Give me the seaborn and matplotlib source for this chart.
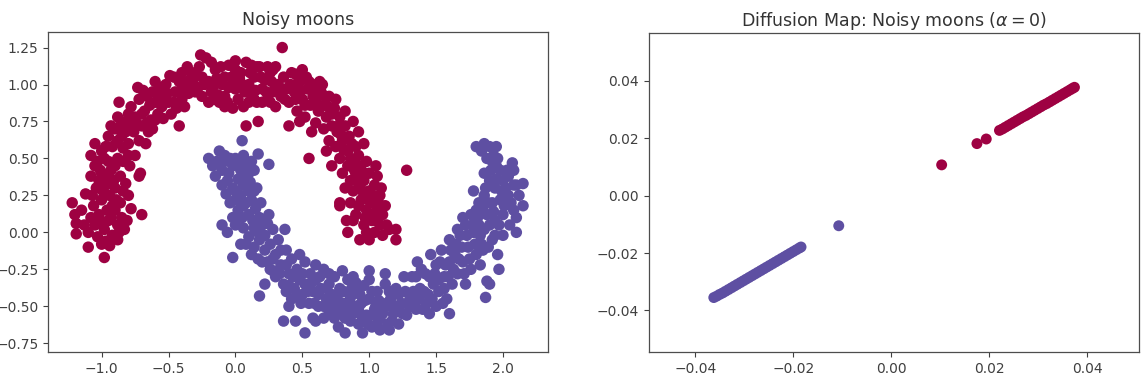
import matplotlib
matplotlib.use("Agg")
import matplotlib.pyplot as plt
import seaborn as sns
import pandas as pd

# ---------------- data ----------------
moon_red = [
    (-1.22,0.20),(-1.20,0.12),(-1.19,0.06),(-1.19,-0.01),(-1.12,0.26),(-1.10,-0.10),(-0.98,-0.17),
    (-1.05,0.05),(-1.02,0.12),(-0.98,0.02),(-0.95,0.08),(-0.92,-0.02),(-0.90,0.15),(-0.88,0.05),
    (-1.03,-0.03),(-0.97,-0.06),(-0.85,0.10),(-0.83,0.02),(-0.86,0.20),(-1.06,0.18),(-1.00,0.22),
    (-0.94,0.25),(-0.90,0.30),(-0.97,0.32),(-1.04,0.30),(-0.80,0.25),(-0.78,0.16),(-0.70,0.12),
    (-0.88,-0.05),(-0.92,0.18),(-1.08,0.38),(-1.00,0.40),(-0.93,0.42),(-0.86,0.38),(-0.82,0.33),
    (-1.05,0.45),(-0.95,0.48),(-0.88,0.50),(-0.79,0.45),(-0.72,0.38),(-0.71,0.40),(-0.75,0.52),
    (-1.00,0.55),(-1.05,0.60),(-0.92,0.58),(-0.84,0.57),(-0.98,0.50),(-1.08,0.52),
    (-0.95,0.65),(-0.90,0.70),(-0.85,0.65),(-0.80,0.60),(-0.76,0.68),(-0.88,0.78),(-0.82,0.75),
    (-0.75,0.78),(-0.70,0.72),(-0.72,0.62),(-0.65,0.68),(-0.78,0.85),(-0.72,0.90),(-0.68,0.82),
    (-0.63,0.76),(-0.73,0.98),(-0.66,0.92),(-0.60,0.88),(-0.58,0.80),(-0.55,0.85),(-0.62,0.95),
    (-0.55,0.93),(-0.50,0.88),(-0.48,0.80),(-0.52,1.00),(-0.45,0.95),(-0.42,1.02),(-0.40,0.90),
    (-0.38,0.85),(-0.42,0.72),(-0.46,1.05),(-0.36,1.12),(-0.33,1.00),(-0.35,0.94),(-0.60,1.02),
    (-0.54,0.77),(-0.67,0.60),(-0.82,0.68),(-0.62,0.70),(-0.87,0.88),
    (-0.30,1.08),(-0.28,0.98),(-0.25,0.92),(-0.22,1.18),(-0.20,1.02),(-0.18,0.95),(-0.15,1.10),
    (-0.12,0.88),(-0.10,1.00),(-0.08,0.92),(-0.05,1.13),(-0.03,1.05),(0.00,0.97),(0.02,0.90),
    (0.04,1.08),(0.06,0.85),(0.08,1.15),(0.10,1.00),(0.12,0.93),(0.14,1.05),(0.16,0.88),
    (0.18,1.12),(0.20,0.97),(0.22,1.03),(0.24,0.90),(0.26,1.08),(0.28,0.95),(0.30,0.85),
    (0.32,1.00),(0.34,0.92),(0.36,1.05),(0.38,0.97),(0.35,1.25),(0.08,0.72),(0.17,0.75),
    (-0.08,0.85),(-0.20,0.88),(-0.26,1.20),(-0.02,0.84),(0.12,1.13),(0.24,1.12),(-0.14,1.04),
    (0.05,1.00),(0.20,0.88),(0.30,1.12),(-0.32,1.03),(-0.25,1.05),(0.00,1.10),(0.15,0.96),(-0.05,0.98),
    (0.40,0.88),(0.42,1.08),(0.44,0.95),(0.46,0.82),(0.48,1.02),(0.50,0.90),(0.50,1.10),(0.52,0.78),
    (0.54,0.97),(0.56,0.86),(0.58,1.00),(0.60,0.74),(0.60,0.90),(0.62,0.82),(0.64,0.95),(0.66,0.70),
    (0.66,0.86),(0.68,0.78),(0.70,0.92),(0.70,0.62),(0.72,0.72),(0.74,0.84),(0.75,0.58),(0.76,0.68),
    (0.78,0.78),(0.78,0.50),(0.80,0.62),(0.82,0.72),(0.82,0.82),(0.84,0.55),(0.85,0.65),(0.55,0.50),
    (0.40,0.72),(0.48,0.75),(0.57,0.68),(0.68,0.55),(0.72,0.45),(0.88,0.75),(0.92,0.68),(0.45,1.00),
    (0.53,1.05),(0.65,1.00),
    (0.80,0.40),(0.82,0.30),(0.84,0.45),(0.86,0.35),(0.86,0.20),(0.88,0.48),(0.88,0.28),(0.90,0.58),
    (0.90,0.40),(0.90,0.12),(0.92,0.30),(0.92,0.52),(0.94,0.22),(0.94,0.42),(0.96,0.60),(0.96,0.35),
    (0.96,0.05),(0.98,0.48),(0.98,0.15),(1.00,0.28),(1.00,0.40),(1.00,-0.05),(1.02,0.08),(1.02,0.20),
    (1.04,0.32),(1.04,0.00),(1.05,0.45),(1.06,0.15),(1.08,0.05),(1.08,0.25),(1.10,-0.02),(1.10,0.12),
    (1.12,0.18),(1.15,0.02),(1.20,0.02),(1.20,-0.05),(1.28,0.42),(0.78,0.20),(0.78,0.18),(0.83,0.08),
    (0.84,0.00),(0.93,-0.05),(0.98,0.00),(1.06,0.38),(1.13,0.05),
    (-1.15,0.15),(-1.13,0.05),(-1.08,0.10),(-1.01,0.08),(-0.96,0.15),(-0.93,0.10),(-0.89,0.22),
    (-0.84,0.28),(-1.07,0.25),(-1.02,0.35),(-0.96,0.38),(-0.90,0.45),(-0.84,0.48),(-0.80,0.52),
    (-1.03,0.48),(-0.97,0.58),(-0.88,0.62),(-0.93,0.72),(-0.86,0.72),(-0.78,0.72),(-1.10,0.00),
    (-1.00,-0.08),(-0.94,-0.09),(-0.87,0.00),(-0.81,0.08),(-0.91,0.35),(-0.99,0.28),(-1.01,0.42),
    (-0.70,0.80),(-0.64,0.86),(-0.57,0.90),(-0.51,0.94),(-0.46,0.88),(-0.44,0.84),(-0.40,0.97),
    (-0.36,1.02),(-0.30,0.95),(-0.27,1.12),(-0.23,1.00),(-0.17,0.98),(-0.13,0.93),(-0.08,1.05),
    (-0.02,1.00),(0.03,1.04),(0.07,0.95),(0.11,1.08),(0.14,0.90),(0.19,1.05),(0.23,0.95),
    (0.27,1.02),(0.33,0.96),(0.37,0.90),(0.41,1.00),(0.45,0.90),(0.49,0.96),(0.52,0.86),
    (0.55,1.02),(0.58,0.92),(0.61,0.85),(0.63,1.02),(0.67,0.92),(0.69,0.85),(0.72,0.80),
    (0.75,0.90),(0.77,0.72),(0.79,0.66),(0.81,0.56),(0.83,0.64),(0.86,0.50),(0.87,0.60),
    (0.89,0.42),(0.91,0.35),(0.93,0.45),(0.95,0.28),(0.97,0.40),(0.99,0.22),(1.01,0.12),
    (1.03,0.25),(1.05,0.08),(1.07,0.20),(1.09,0.30),(0.97,0.10),(0.92,0.18),(0.88,0.08),
    (-0.60,0.76),(-0.66,0.74),(-0.74,0.74),(-0.80,0.80),(-0.69,0.96),(-0.56,0.98),(-0.49,1.06),
    (-0.40,1.08),(-0.33,1.08),(-0.18,1.15),(-0.11,1.12),(0.00,1.16),(0.16,1.12),(0.28,1.10),
    (0.45,1.07),(0.60,0.97),(-0.16,0.90),(-0.06,0.88),(0.10,0.88),(0.26,0.88),
]

moon_purple = [
    (-0.20,0.50),(-0.17,0.45),(-0.12,0.55),(-0.10,0.42),(-0.15,0.38),(-0.08,0.48),(-0.05,0.40),
    (-0.02,0.45),(0.00,0.50),(0.05,0.62),(0.06,0.52),(0.08,0.46),(0.10,0.40),(0.12,0.48),(0.17,0.53),
    (0.25,0.46),(0.14,0.42),(-0.06,0.35),(-0.02,0.30),(0.02,0.36),(0.06,0.32),(0.10,0.28),(0.04,0.25),
    (0.00,0.22),(-0.04,0.20),(0.08,0.20),(0.12,0.22),(0.15,0.16),(0.02,0.15),(-0.02,0.10),(0.05,0.10),
    (0.10,0.12),(0.18,0.10),(0.20,0.05),(0.14,0.03),(0.06,0.03),(0.00,0.05),(-0.10,0.05),(-0.06,0.00),
    (0.10,-0.03),(0.25,0.12),(0.28,0.02),(0.22,-0.02),(0.37,0.02),(0.04,-0.08),(-0.02,-0.17),
    (0.16,0.30),(0.19,0.20),
    (0.14,-0.10),(0.18,-0.05),(0.22,-0.12),(0.26,-0.08),(0.30,-0.15),(0.20,-0.20),(0.26,-0.25),
    (0.32,-0.05),(0.34,-0.22),(0.38,-0.12),(0.30,-0.30),(0.36,-0.35),(0.40,-0.28),(0.42,-0.18),
    (0.44,-0.38),(0.46,-0.25),(0.48,-0.32),(0.50,-0.42),(0.52,-0.20),(0.52,-0.35),(0.55,-0.48),
    (0.56,-0.28),(0.58,-0.40),(0.60,-0.32),(0.62,-0.50),(0.64,-0.38),(0.66,-0.25),(0.68,-0.45),
    (0.70,-0.55),(0.70,-0.35),(0.18,-0.43),(0.22,-0.35),(0.40,-0.50),(0.45,-0.60),(0.36,-0.60),
    (0.52,-0.68),(0.58,-0.58),(0.38,-0.40),(0.28,-0.18),(0.48,-0.15),(0.60,-0.22),(0.42,-0.45),
    (0.72,-0.42),(0.74,-0.30),(0.75,-0.52),(0.77,-0.64),(0.78,-0.38),(0.80,-0.48),(0.82,-0.58),
    (0.82,-0.68),(0.84,-0.32),(0.86,-0.44),(0.88,-0.55),(0.90,-0.40),(0.92,-0.62),(0.94,-0.48),
    (0.96,-0.36),(0.98,-0.56),(1.00,-0.45),(1.00,-0.32),(1.02,-0.64),(1.04,-0.52),(1.06,-0.40),
    (1.08,-0.58),(1.10,-0.48),(1.12,-0.35),(1.14,-0.62),(1.16,-0.45),(1.18,-0.55),(1.20,-0.38),
    (1.22,-0.62),(1.24,-0.48),(1.26,-0.30),(1.28,-0.56),(1.30,-0.42),(0.95,-0.68),(1.08,-0.66),
    (1.15,-0.66),(0.88,-0.30),(1.00,-0.26),(0.80,-0.26),(1.12,-0.28),(1.05,-0.50),(0.92,-0.52),
    (0.85,-0.52),(1.18,-0.42),
    (1.32,-0.30),(1.34,-0.48),(1.36,-0.20),(1.38,-0.38),(1.40,-0.52),(1.42,-0.28),(1.44,-0.42),
    (1.46,-0.15),(1.48,-0.35),(1.50,-0.50),(1.50,-0.22),(1.52,-0.40),(1.54,-0.12),(1.56,-0.30),
    (1.58,-0.45),(1.60,-0.20),(1.60,-0.05),(1.62,-0.35),(1.64,-0.15),(1.66,-0.28),(1.68,-0.02),
    (1.70,-0.20),(1.72,-0.35),(1.72,0.05),(1.74,-0.10),(1.76,0.12),(1.76,-0.25),(1.78,0.00),
    (1.80,-0.15),(1.80,0.15),(1.82,0.05),(1.84,-0.08),(1.60,-0.55),(1.45,-0.55),(1.55,-0.48),
    (1.70,0.10),(1.66,0.02),(1.78,0.28),(1.88,-0.33),(1.87,-0.44),(1.90,-0.35),(1.83,-0.22),
    (1.80,0.58),(1.86,0.60),(1.90,0.58),(1.95,0.58),(1.88,0.50),(1.92,0.48),(1.98,0.42),(2.07,0.47),
    (2.08,0.42),(2.15,0.33),(2.15,0.18),(2.10,0.00),(1.86,0.40),(1.90,0.35),(1.94,0.30),(2.00,0.35),
    (2.04,0.38),(2.10,0.32),(2.12,0.25),(1.86,0.25),(1.92,0.20),(1.98,0.22),(2.04,0.25),(2.08,0.15),
    (1.88,0.12),(1.94,0.08),(2.00,0.12),(2.05,0.05),(1.86,0.02),(1.92,-0.05),(1.96,-0.15),(2.00,-0.02),
    (1.95,0.45),(2.02,0.30),(1.97,-0.25),(1.82,0.20),(2.08,0.32),(1.96,0.50),
    (-0.14,0.48),(-0.08,0.52),(-0.04,0.50),(0.02,0.48),(0.04,0.42),(-0.10,0.32),(-0.07,0.26),
    (0.00,0.28),(0.07,0.38),(0.11,0.34),(0.14,0.28),(0.06,0.18),(0.13,0.08),(0.17,0.00),(0.24,0.06),
    (0.08,-0.08),(0.12,-0.15),(0.17,-0.18),(0.24,-0.20),(0.28,-0.26),(0.33,-0.28),(0.34,-0.12),
    (0.38,-0.22),(0.40,-0.36),(0.43,-0.30),(0.46,-0.42),(0.49,-0.48),(0.50,-0.28),(0.54,-0.40),
    (0.57,-0.34),(0.59,-0.48),(0.62,-0.42),(0.63,-0.30),(0.66,-0.50),(0.68,-0.38),(0.72,-0.48),
    (0.74,-0.58),(0.76,-0.44),(0.79,-0.54),(0.81,-0.40),(0.83,-0.48),(0.86,-0.60),(0.87,-0.38),
    (0.90,-0.50),(0.93,-0.42),(0.95,-0.58),(0.97,-0.46),(0.99,-0.62),(1.02,-0.40),(1.03,-0.56),
    (1.06,-0.62),(1.07,-0.46),(1.10,-0.55),(1.13,-0.50),(1.15,-0.40),(1.17,-0.60),(1.20,-0.50),
    (1.22,-0.42),(1.25,-0.55),(1.27,-0.40),(1.30,-0.50),(1.33,-0.40),(1.35,-0.30),(1.37,-0.45),
    (1.39,-0.25),(1.41,-0.40),(1.43,-0.48),(1.45,-0.30),(1.47,-0.45),(1.49,-0.28),(1.52,-0.32),
    (1.53,-0.20),(1.56,-0.38),(1.57,-0.22),(1.59,-0.30),(1.61,-0.12),(1.63,-0.25),(1.65,-0.08),
    (1.67,-0.18),(1.69,-0.10),(1.71,-0.28),(1.73,-0.02),(1.75,-0.18),(1.77,0.05),(1.79,-0.08),
    (1.81,0.10),(1.83,-0.02),(1.85,0.15),(1.87,0.30),(1.89,0.20),(1.90,0.05),(1.91,0.42),
    (1.93,0.14),(1.95,0.36),(1.97,0.05),(1.99,0.28),(2.01,0.18),(2.03,0.42),(2.06,0.20),
    (2.10,0.10),(1.93,0.52),(1.84,0.55),(1.89,-0.10),(1.94,-0.02),(1.85,-0.12),(1.35,-0.52),
    (1.28,-0.48),(0.70,-0.28),(0.90,-0.34),(0.66,-0.58),(0.60,-0.60),
]

dmap_purple = [
    (-0.0362,-0.0355),(-0.0356,-0.0350),(-0.0350,-0.0344),(-0.0344,-0.0339),(-0.0338,-0.0333),
    (-0.0332,-0.0327),(-0.0326,-0.0321),(-0.0320,-0.0315),(-0.0314,-0.0309),(-0.0308,-0.0303),
    (-0.0302,-0.0297),(-0.0296,-0.0291),(-0.0290,-0.0285),(-0.0284,-0.0279),(-0.0278,-0.0273),
    (-0.0272,-0.0267),(-0.0266,-0.0261),(-0.0260,-0.0255),(-0.0254,-0.0249),(-0.0248,-0.0243),
    (-0.0242,-0.0237),(-0.0236,-0.0231),(-0.0230,-0.0225),(-0.0224,-0.0219),(-0.0218,-0.0213),
    (-0.0212,-0.0207),(-0.0206,-0.0201),(-0.0200,-0.0195),(-0.0194,-0.0189),(-0.0188,-0.0183),
    (-0.0184,-0.0179),(-0.0107,-0.0105),
]

dmap_red = [
    (0.0103,0.0107),(0.0175,0.0181),(0.0194,0.0197),
    (0.0221,0.0227),(0.0227,0.0232),(0.0233,0.0238),(0.0239,0.0244),(0.0245,0.0250),(0.0251,0.0256),
    (0.0257,0.0262),(0.0263,0.0268),(0.0269,0.0274),(0.0275,0.0279),(0.0281,0.0285),(0.0287,0.0291),
    (0.0293,0.0297),(0.0299,0.0303),(0.0305,0.0309),(0.0311,0.0315),(0.0317,0.0320),(0.0323,0.0326),
    (0.0329,0.0332),(0.0335,0.0338),(0.0341,0.0344),(0.0347,0.0350),(0.0353,0.0356),(0.0359,0.0362),
    (0.0365,0.0368),(0.0370,0.0373),(0.0374,0.0377),
]

left_title = "Noisy moons"
right_title = r"Diffusion Map: Noisy moons ($\alpha = 0$)"
left_xticks = [-1.0, -0.5, 0.0, 0.5, 1.0, 1.5, 2.0]
left_yticks = [-0.75, -0.50, -0.25, 0.00, 0.25, 0.50, 0.75, 1.00, 1.25]
right_ticks = [-0.04, -0.02, 0.00, 0.02, 0.04]

RED = "#9e0142"
PURPLE = "#5e4fa2"

# ---------------- build frames ----------------
def frame(red, purple):
    rows = [(x, y, "red") for x, y in red] + [(x, y, "purple") for x, y in purple]
    return pd.DataFrame(rows, columns=["x", "y", "label"])

df_left = frame(moon_red, moon_purple)
df_right = frame(dmap_red, dmap_purple)

sns.set_style("ticks")
plt.rcParams["font.family"] = ["DejaVu Sans"]

fig = plt.figure(figsize=(11.46, 3.84), dpi=100)
ax1 = fig.add_axes([0.042, 0.083, 0.436, 0.834])
ax2 = fig.add_axes([0.566, 0.083, 0.428, 0.831])

palette = {"red": RED, "purple": PURPLE}

sns.scatterplot(data=df_left, x="x", y="y", hue="label", palette=palette,
                s=68, linewidth=0, alpha=1, legend=False, ax=ax1)
sns.scatterplot(data=df_right, x="x", y="y", hue="label", palette=palette,
                s=62, linewidth=0, alpha=1, legend=False, ax=ax2)

ax1.set_xlim(-1.40, 2.335)
ax1.set_ylim(-0.81, 1.356)
ax1.set_xticks(left_xticks)
ax1.set_xticklabels([f"{v:.1f}".replace("-", "\u2212") for v in left_xticks])
ax1.set_yticks(left_yticks)
ax1.set_yticklabels([f"{v:.2f}".replace("-", "\u2212") for v in left_yticks])

ax2.set_xlim(-0.0495, 0.0506)
ax2.set_ylim(-0.0545, 0.0566)
ax2.set_xticks(right_ticks)
ax2.set_xticklabels([f"{v:.2f}".replace("-", "\u2212") for v in right_ticks])
ax2.set_yticks(right_ticks)
ax2.set_yticklabels([f"{v:.2f}".replace("-", "\u2212") for v in right_ticks])

for ax, t in ((ax1, left_title), (ax2, right_title)):
    ax.set_title(t, fontsize=12.5, color="0.2", pad=5)
    ax.set_xlabel("")
    ax.set_ylabel("")
    ax.tick_params(labelsize=10, colors="0.25", length=3.5, width=0.8)
    for sp in ax.spines.values():
        sp.set_visible(True)
        sp.set_color("0.3")
        sp.set_linewidth(0.9)

fig.savefig("out.png", dpi=100, facecolor="white")
